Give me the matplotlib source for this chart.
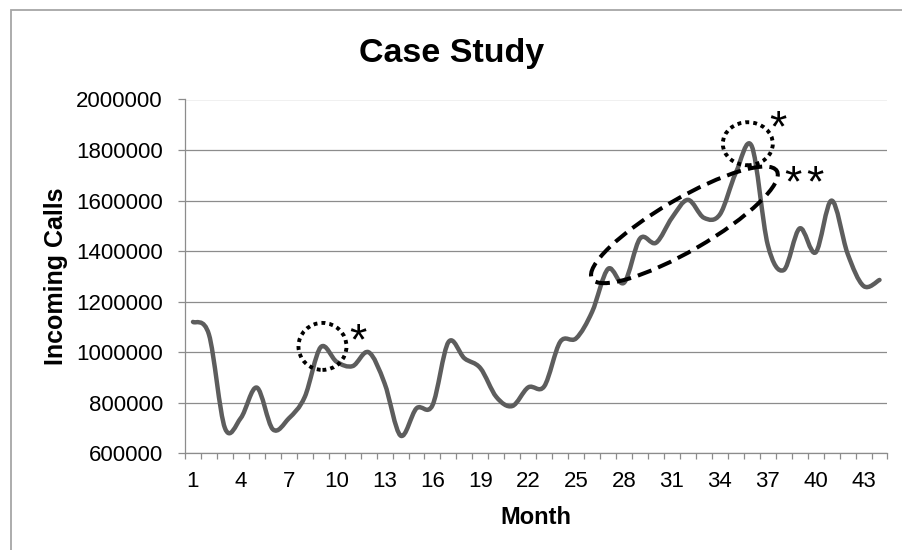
import numpy as np
import matplotlib
matplotlib.use("Agg")
import matplotlib.pyplot as plt
from matplotlib.path import Path
from matplotlib.patches import PathPatch, Ellipse, Rectangle
from matplotlib.transforms import ScaledTranslation

plt.rcParams['font.family'] = ['Liberation Sans', 'DejaVu Sans']

months = list(range(1, 45))
calls = [1120000, 1070000, 700000, 740000, 860000, 695000, 738000, 823000,
         1020000, 962000, 945000, 1000000, 877000, 670000, 778000, 790000,
         1040000, 976000, 937000, 823000, 787000, 861000, 865000, 1041000,
         1055000, 1160000, 1330000, 1275000, 1450000, 1433000, 1532000, 1603000,
         1532000, 1545000, 1710000, 1815000, 1425000, 1325000, 1490000, 1395000,
         1600000, 1390000, 1262000, 1286000]
x_tick_labels = [str(m) for m in range(1, 45, 3)]
y_ticks = list(range(600000, 2000001, 200000))

fig = plt.figure(figsize=(9.03, 5.5), dpi=100)
fig.patch.set_facecolor('white')

# outer chart border
fig.patches.append(Rectangle((11/903, -0.2), 1.2, 0.2 + 1 - 10/550, transform=fig.transFigure,
                             fill=False, edgecolor='#a6a6a6', linewidth=1.3))

ax = fig.add_axes([185/903, 1 - 453.3/550, (887.5-185)/903, (453.3-99.5)/550])
ax.set_xlim(0.5, 44.5)
ax.set_ylim(600000, 2000000)

# smooth line (Catmull-Rom -> cubic Bezier, like a spreadsheet "smoothed line")
xs = np.array(months, dtype=float)
ys = np.array(calls, dtype=float)
pts = np.column_stack([xs, ys])
verts = [pts[0]]
codes = [Path.MOVETO]
n = len(pts)
for i in range(n - 1):
    p0 = pts[i - 1] if i > 0 else pts[i]
    p1 = pts[i]
    p2 = pts[i + 1]
    p3 = pts[i + 2] if i + 2 < n else pts[i + 1]
    c1 = p1 + (p2 - p0) / 6.0
    c2 = p2 - (p3 - p1) / 6.0
    verts += [c1, c2, p2]
    codes += [Path.CURVE4] * 3
ax.add_patch(PathPatch(Path(verts, codes), fill=False, edgecolor='#5d5d5d',
                       linewidth=3.2, capstyle='round', joinstyle='round', zorder=3))

# grid / spines
ax.set_yticks(y_ticks)
ax.set_yticklabels([str(v) for v in y_ticks])
ax.yaxis.grid(True, color='#8c8c8c', linewidth=0.9)
ax.set_axisbelow(True)
for s in ['top', 'right']:
    ax.spines[s].set_visible(False)
for s in ['left', 'bottom']:
    ax.spines[s].set_color('#8c8c8c')
    ax.spines[s].set_linewidth(0.9)

ax.set_xticks(np.arange(0.5, 45, 1.0))
ax.set_xticklabels([])
ax.set_xticks(list(range(1, 45, 3)), minor=True)
ax.set_xticklabels(x_tick_labels, minor=True)
ax.tick_params(axis='x', which='major', direction='out', length=4, width=0.9, color='#8c8c8c')
ax.tick_params(axis='x', which='minor', length=0, pad=13, labelsize=16)
ax.tick_params(axis='y', direction='out', length=5, width=0.9, color='#8c8c8c', pad=11, labelsize=16)

# titles
fig.text(0.5, 1 - 62/550, 'Case Study', ha='center', va='baseline', fontsize=24.5, fontweight='bold')
fig.text(56/903, 1 - 276/550, 'Incoming Calls', ha='center', va='center', rotation=90,
         fontsize=18, fontweight='bold')
fig.text((185 + 887.5)/2/903, 1 - 524/550, 'Month', ha='center', va='baseline',
         fontsize=17, fontweight='bold')

# annotations
def ell(cx, cy, w_px, h_px, ang, ls, lw):
    tr = fig.dpi_scale_trans + ScaledTranslation(cx, cy, ax.transData)
    e = Ellipse((0, 0), w_px/100, h_px/100, angle=ang, fill=False, edgecolor='black',
                linestyle=ls, linewidth=lw, transform=tr, zorder=4)
    ax.add_patch(e)

ell(9.11, 1023000, 48, 47, 0, (0, (1, 1.05)), 2.8)
ell(35.75, 1825000, 50, 43, 0, (0, (1, 1.05)), 2.8)
ell(31.78, 1504000, 214, 52, 30.2, (0, (3.6, 1.8)), 2.9)

star_tr = ax.transData + ScaledTranslation(0, -22/100, fig.dpi_scale_trans)
star_x = [11.33, 37.66, 38.55, 39.93]
star_y = [1077000, 1920000, 1704000, 1704000]
for sx, sy in zip(star_x, star_y):
    ax.text(sx, sy, '*', ha='center', va='baseline', fontsize=32, transform=star_tr)

fig.savefig('out.png', dpi=100)
